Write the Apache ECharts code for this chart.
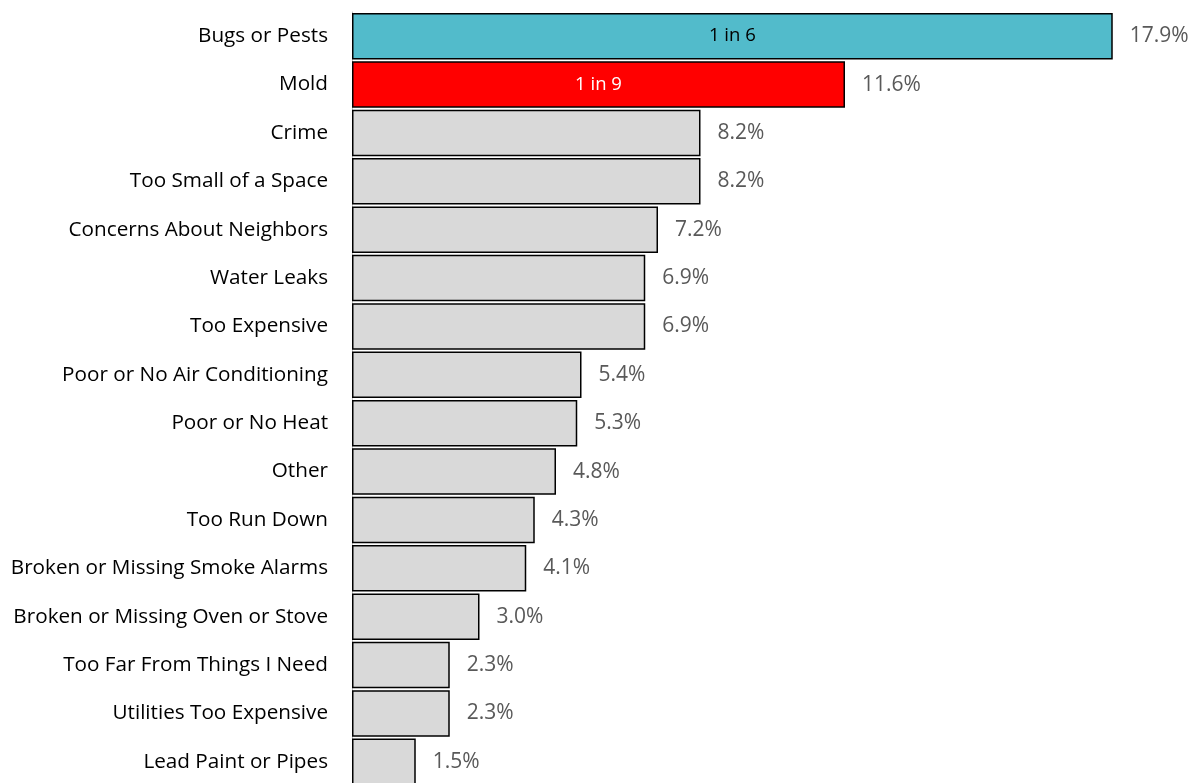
<!DOCTYPE html>
<html>
<head>
<meta charset="utf-8">
<script src="https://cdn.jsdelivr.net/npm/echarts@6/dist/echarts.min.js"></script>
<style>
  html, body { margin: 0; padding: 0; background: #fff; }
  #chart { width: 1196px; height: 783px; }
</style>
</head>
<body>
<div id="chart"></div>
<script>
// Housing problems reported, share of respondents (%)
const categories = [
  'Bugs or Pests', 'Mold', 'Crime', 'Too Small of a Space', 'Concerns About Neighbors',
  'Water Leaks', 'Too Expensive', 'Poor or No Air Conditioning', 'Poor or No Heat', 'Other',
  'Too Run Down', 'Broken or Missing Smoke Alarms', 'Broken or Missing Oven or Stove',
  'Too Far From Things I Need', 'Utilities Too Expensive', 'Lead Paint or Pipes'
];
const values = [17.9, 11.6, 8.2, 8.2, 7.2, 6.9, 6.9, 5.4, 5.3, 4.8, 4.3, 4.1, 3.0, 2.3, 2.3, 1.5];
// Ratio callouts written inside the top two bars
const ratioLabels = ['1 in 6', '1 in 9'];

const FONT = '"Open Sans", "Noto Sans", sans-serif';
const fills = { 0: '#52bbcb', 1: '#ff0000' };
const ratioColors = { 0: '#000000', 1: '#ffffff' };

const chart = echarts.init(document.getElementById('chart'), null, { renderer: 'canvas' });

const barData = values.map((v, i) => ({
  value: v,
  itemStyle: { color: fills[i] || '#d9d9d9' }
}));

const ratioData = values.map((v, i) => ({
  value: i < ratioLabels.length ? v : null,
  label: {
    show: i < ratioLabels.length,
    formatter: ratioLabels[i] || '',
    color: ratioColors[i] || '#000'
  }
}));

chart.setOption({
  animation: false,
  grid: { left: 352, top: 12, width: 850, height: 774, outerBoundsMode: 'none' },
  xAxis: {
    type: 'value', min: 0, max: 20, show: false
  },
  yAxis: {
    type: 'category', data: categories, inverse: true,
    axisLine: { show: true, lineStyle: { color: '#bfbfbf', width: 1 } },
    axisTick: { show: false },
    axisLabel: { color: '#000', fontSize: 20.7, fontFamily: FONT, margin: 24 }
  },
  series: [
    {
      type: 'bar', data: barData, barCategoryGap: '4%',
      itemStyle: { borderColor: '#000', borderWidth: 1.5 },
      label: {
        show: true, position: 'right', distance: 17,
        formatter: p => p.value.toFixed(1) + '%',
        color: '#595959', fontSize: 21, fontFamily: FONT
      },
      z: 2
    },
    {
      type: 'bar', data: ratioData, barGap: '-100%', barCategoryGap: '4%',
      itemStyle: { color: 'transparent', borderWidth: 0 },
      label: { position: 'inside', fontSize: 18.5, fontFamily: FONT },
      silent: true, z: 3
    }
  ]
});
</script>
</body>
</html>
